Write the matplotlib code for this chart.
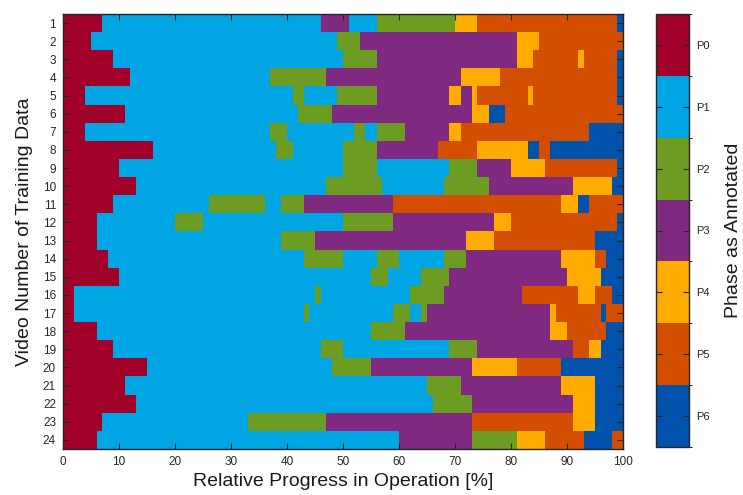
import numpy as np
import matplotlib
matplotlib.use("Agg")
import matplotlib.pyplot as plt
from matplotlib.colors import ListedColormap, BoundaryNorm

plt.rcParams['font.family'] = ['Liberation Sans', 'DejaVu Sans']

# Phase labels and their colours
phase_labels = ["P0", "P1", "P2", "P3", "P4", "P5", "P6"]
phase_colors = ["#A1002A", "#00A6E4", "#6C9C22", "#7F2A80", "#FFAB00", "#D44E00", "#0052AA"]

# Annotated phase sequence per training video: phase index and the
# progress [%] at which each phase segment ends
row_phases = [
    [0, 1, 3, 1, 2, 4, 5, 6],
    [0, 1, 2, 3, 4, 5],
    [0, 1, 2, 3, 4, 5, 4, 5, 6],
    [0, 1, 2, 3, 4, 5, 6],
    [0, 1, 2, 1, 2, 3, 4, 3, 4, 5, 4, 5, 6],
    [0, 1, 2, 3, 4, 6, 5],
    [0, 1, 2, 1, 2, 1, 2, 3, 4, 5, 6],
    [0, 1, 2, 1, 2, 3, 5, 4, 6, 5, 6],
    [0, 1, 2, 1, 2, 3, 4, 5, 6],
    [0, 1, 2, 1, 2, 3, 4, 6],
    [0, 1, 2, 1, 2, 3, 5, 4, 6, 5],
    [0, 1, 2, 1, 2, 3, 4, 5, 6],
    [0, 1, 2, 3, 4, 5, 6],
    [0, 1, 2, 1, 2, 1, 2, 3, 4, 5, 6],
    [0, 1, 2, 1, 2, 3, 4, 6],
    [0, 1, 2, 1, 2, 3, 5, 4, 5, 6],
    [0, 1, 2, 1, 2, 1, 2, 3, 4, 5, 6, 5],
    [0, 1, 2, 3, 4, 5, 6],
    [0, 1, 2, 1, 2, 3, 5, 4, 6],
    [0, 1, 2, 3, 4, 5, 6],
    [0, 1, 2, 3, 4, 6],
    [0, 1, 2, 3, 4, 6],
    [0, 1, 2, 3, 5, 4, 6],
    [0, 1, 3, 2, 4, 5, 6, 5],
]
row_ends = [
    [7, 46, 51, 56, 70, 74, 99, 100],
    [5, 49, 53, 81, 85, 100],
    [9, 50, 56, 81, 84, 92, 93, 99, 100],
    [12, 37, 47, 71, 78, 99, 100],
    [4, 41, 43, 49, 56, 69, 71, 73, 74, 83, 84, 99, 100],
    [11, 42, 48, 73, 76, 79, 100],
    [4, 37, 40, 52, 54, 56, 61, 69, 71, 94, 100],
    [16, 38, 41, 50, 56, 67, 74, 83, 85, 87, 100],
    [10, 50, 56, 69, 74, 80, 86, 99, 100],
    [13, 47, 57, 68, 76, 91, 98, 100],
    [9, 26, 36, 39, 43, 59, 89, 92, 94, 100],
    [6, 20, 25, 50, 59, 77, 80, 99, 100],
    [6, 39, 45, 72, 77, 95, 100],
    [8, 43, 50, 56, 60, 68, 72, 89, 95, 97, 100],
    [10, 55, 58, 64, 69, 90, 96, 100],
    [2, 45, 46, 62, 68, 82, 92, 95, 98, 100],
    [2, 43, 44, 59, 62, 64, 65, 87, 88, 96, 97, 100],
    [6, 55, 61, 87, 90, 97, 100],
    [9, 46, 50, 69, 74, 91, 94, 96, 100],
    [15, 48, 55, 73, 81, 89, 100],
    [11, 65, 71, 89, 95, 100],
    [13, 66, 73, 91, 95, 100],
    [7, 33, 47, 73, 91, 95, 100],
    [6, 60, 73, 81, 86, 93, 98, 100],
]
video_ids = list(range(1, 25))
progress_ticks = list(range(0, 101, 10))

# Expand the segments into a video x percent grid
n_bins = 100
grid = np.zeros((len(video_ids), n_bins), dtype=int)
for r, (ph, ends) in enumerate(zip(row_phases, row_ends)):
    start = 0
    for p, e in zip(ph, ends):
        grid[r, start:e] = p
        start = e

cmap = ListedColormap(phase_colors)
norm = BoundaryNorm(np.arange(-0.5, len(phase_labels) + 0.5, 1), cmap.N)

W, H = 743, 495
fig = plt.figure(figsize=(W / 100, H / 100), dpi=100)
ax = fig.add_axes([63 / W, (H - 449) / H, (623 - 63) / W, (449 - 14) / H])

ax.imshow(grid, cmap=cmap, norm=norm, aspect='auto', interpolation='nearest',
          extent=[0, 100, len(video_ids) + 0.5, 0.5])
ax.set_xlim(0, 100)
ax.set_ylim(len(video_ids) + 0.5, 0.5)

axis_col = "#262626"
ax.set_xticks(progress_ticks)
ax.set_yticks(video_ids)
ax.tick_params(direction='in', top=True, right=True, length=4, width=0.8,
               colors=axis_col, labelsize=8.5, pad=5)
for s in ax.spines.values():
    s.set_color(axis_col)
    s.set_linewidth(1.0)

ax.set_xlabel("Relative Progress in Operation [%]", fontsize=14, color="#1a1a1a", labelpad=4)
ax.set_ylabel("Video Number of Training Data", fontsize=14, color="#1a1a1a", labelpad=7)

# Colour bar for the phases
cax = fig.add_axes([656 / W, (H - 447) / H, 33 / W, 433 / H])
sm = matplotlib.cm.ScalarMappable(norm=norm, cmap=cmap)
cb = fig.colorbar(sm, cax=cax, ticks=range(len(phase_labels)))
cb.set_ticklabels(phase_labels)
cax.invert_yaxis()
cax.tick_params(direction='in', left=True, right=True, length=4, width=0.8,
                colors=axis_col, labelsize=8, pad=5)
cb.outline.set_edgecolor(axis_col)
cb.outline.set_linewidth(1.0)
cb.set_label("Phase as Annotated", fontsize=14, color="#1a1a1a", labelpad=11)

fig.savefig("out.png", dpi=100)
